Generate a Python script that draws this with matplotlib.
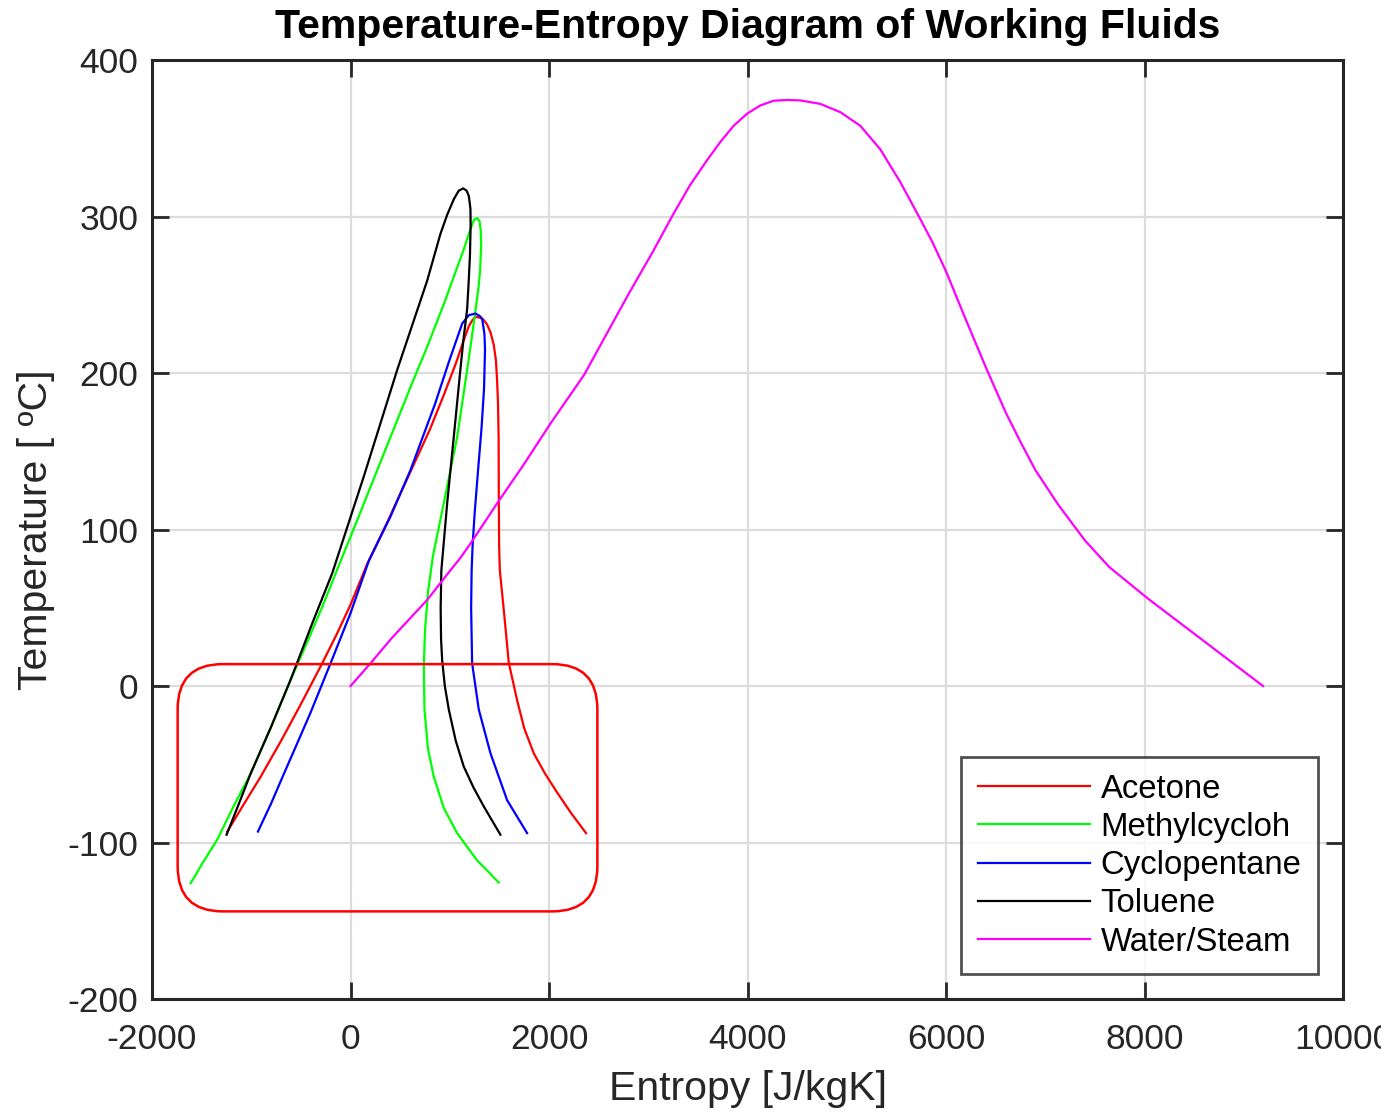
import matplotlib
import matplotlib.pyplot as plt
from matplotlib.patches import FancyBboxPatch

matplotlib.use("Agg")
plt.rcParams["font.family"] = ["Liberation Sans", "DejaVu Sans"]
plt.rcParams["axes.unicode_minus"] = False

# saturation curves: entropy [J/kgK], temperature [C]
acetone_s = [-1242, -1080, -906, -700, -504, -285, -140, 0, 168, 380, 604, 800,
             940, 1060, 1141, 1192, 1230, 1259, 1300, 1340, 1376, 1410, 1443,
             1465, 1477, 1486, 1492, 1494, 1497, 1504, 1545, 1594, 1678, 1750,
             1846, 1960, 2081, 2220, 2373]
acetone_t = [-93, -76, -58, -35, -12, 14.6, 33, 52, 78, 106, 137, 164, 186,
             206, 221, 230, 234, 235.8, 235.5, 234, 231, 226, 218, 208, 195,
             180, 159, 117, 90, 74, 48, 15, -9, -27, -43, -56, -68, -81, -94]

methyl_s = [-1611, -1480, -1342, -1180, -1007, -800, -604, -430, -269, -118,
            80, 269, 440, 604, 780, 940, 1060, 1141, 1208, 1245, 1276, 1300,
            1312, 1316, 1306, 1290, 1259, 1220, 1175, 1074, 940, 830, 780, 750,
            738, 745, 780, 839, 940, 1074, 1270, 1494]
methyl_t = [-126, -112, -98, -77, -56, -26, 4, 29, 53, 77, 108, 138, 165, 191,
            218, 244, 265, 279, 292, 298, 299, 297, 291, 282, 266, 255, 240,
            222, 202, 159, 117, 83, 60, 35, 12, -15, -40, -58, -78, -94, -111,
            -125.6]

cyclo_s = [-933, -800, -671, -540, -403, -201, 0, 184, 400, 604, 850, 990,
           1125, 1192, 1259, 1300, 1326, 1349, 1355, 1345, 1320, 1285, 1250,
           1230, 1220, 1215, 1225, 1292, 1410, 1578, 1779]
cyclo_t = [-93, -75, -56, -37, -17, 14.6, 46.6, 80, 108, 138, 180, 207,
           231.6, 237, 238, 236.5, 234.8, 225, 215, 190, 165, 138, 110, 90, 74,
           50, 14.6, -15, -43, -73, -94]

toluene_s = [-1249, -1130, -1007, -800, -604, -380, -185, 134, 470, 772, 906,
             973, 1040, 1090, 1135, 1170, 1192, 1208, 1210, 1203, 1190, 1175,
             1135, 1101, 1057, 974, 915, 908, 912, 923, 950, 990, 1060, 1141,
             1240, 1343, 1510]
toluene_t = [-95, -76, -56, -26, 4, 41, 72, 134, 202, 259, 289, 301, 311,
             316.5, 318, 316.5, 313, 305, 294, 275, 258, 241, 220, 198.6, 170,
             117, 74, 50, 30, 16.6, 0, -15, -35, -51.5, -65, -77, -95]

water_s = [0, 201, 420, 772, 1007, 1108, 1208, 1477, 1750, 2014, 2355, 2580,
           2806, 3050, 3256, 3420, 3592, 3730, 3860, 3995, 4129, 4263, 4400,
           4532, 4733, 4935, 5136, 5337, 5539, 5710, 5860, 6000, 6200, 6419,
           6600, 6742, 6900, 7129, 7400, 7645, 8032, 8613, 9194]
water_t = [0, 14.5, 31, 55, 74, 82, 91, 116.7, 142, 167.7, 199, 225, 251, 278,
           302, 320, 336, 348, 358, 365.7, 371, 374, 374.5, 374.2, 372, 366.7,
           358, 343, 322, 302, 284, 265, 234, 201, 175, 157, 138, 116, 93,
           76, 56, 28, 0]

names = ["Acetone", "Methylcycloh", "Cyclopentane", "Toluene", "Water/Steam"]
colors = ["#ff0000", "#00ff00", "#0000ff", "#000000", "#ff00ff"]

# highlight box corners in data units
box_s = [-1742, 2487]
box_t = [-144, 14]

fig = plt.figure(figsize=(13.81, 11.12), dpi=100)
ax = fig.add_axes([0.1101, 0.1016, 0.8624, 0.8444])

series = [(acetone_s, acetone_t), (methyl_s, methyl_t), (cyclo_s, cyclo_t),
          (toluene_s, toluene_t), (water_s, water_t)]
for (s, t), name, c in zip(series, names, colors):
    ax.plot(s, t, color=c, lw=1.6, label=name, solid_joinstyle="round")

ax.set_xlim(-2000, 10000)
ax.set_ylim(-200, 400)
ax.set_xticks(range(-2000, 10001, 2000))
ax.set_yticks(range(-200, 401, 100))
ax.grid(True, color="#dcdcdc", lw=1.6)
ax.set_axisbelow(True)
ax.tick_params(direction="in", length=12, width=2, colors="#262626",
               labelsize=25.5, top=True, right=True)
ax.tick_params(axis="x", pad=17)
ax.tick_params(axis="y", pad=10)
for sp in ax.spines.values():
    sp.set_linewidth(2.2)
    sp.set_color("#262626")

ax.set_xlabel("Entropy [J/kgK]", fontsize=29.5, color="#262626", labelpad=10)
ax.set_ylabel("Temperature [ ºC]", fontsize=29.5, color="#262626", labelpad=9)
ax.set_title("Temperature-Entropy Diagram of Working Fluids", fontsize=29.5,
             fontweight="bold", pad=16)

leg = ax.legend(loc="lower right", fontsize=23.7, frameon=True, fancybox=False,
                edgecolor="#262626", handlelength=3.4, handletextpad=0.33,
                labelspacing=0.22, borderpad=0.5, borderaxespad=0,
                bbox_to_anchor=(0.979, 0.0266))
leg.get_frame().set_linewidth(2)

# rounded highlight box, drawn in display pixels so the corners stay round
fig.canvas.draw()
(x0, y0), (x1, y1) = ax.transData.transform([(box_s[0], box_t[0]),
                                              (box_s[1], box_t[1])])
rad = 45
box = FancyBboxPatch((x0 + rad, y0 + rad), x1 - x0 - 2 * rad, y1 - y0 - 2 * rad,
                     boxstyle=f"round,pad={rad}", transform=None,
                     fill=False, edgecolor="#ff0000", lw=1.8, zorder=5)
ax.add_artist(box)

fig.savefig("out.png", dpi=100)
